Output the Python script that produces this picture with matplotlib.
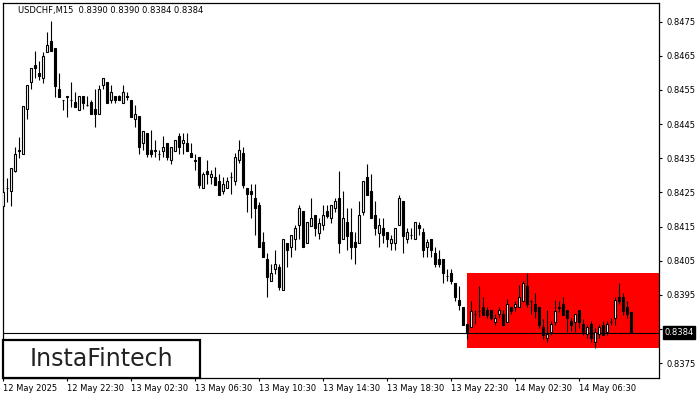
import matplotlib
matplotlib.use("Agg")
import matplotlib.pyplot as plt
from matplotlib.patches import Rectangle
import numpy as np

title_text = "USDCHF,M15  0.8390 0.8390 0.8384 0.8384"

opens = [0.84211, 0.84262, 0.84254, 0.84313, 0.84372, 0.84364, 0.84493, 0.84574, 0.84623, 0.84601,
         0.84584, 0.84662, 0.84693, 0.84672, 0.84553, 0.84522, 0.84530, 0.84520, 0.84514, 0.84491,
         0.84532, 0.84506, 0.84514, 0.84493, 0.84481, 0.84564, 0.84574, 0.84522, 0.84532, 0.84532,
         0.84512, 0.84532, 0.84522, 0.84464, 0.84474, 0.84394, 0.84425, 0.84374, 0.84372, 0.84364,
         0.84372, 0.84394, 0.84345, 0.84372, 0.84415, 0.84394, 0.84394, 0.84366, 0.84345, 0.84355,
         0.84262, 0.84312, 0.84294, 0.84296, 0.84283, 0.84253, 0.84262, 0.84296, 0.84283, 0.84344,
         0.84365, 0.84262, 0.84255, 0.84233, 0.84213, 0.84104, 0.84054, 0.83991, 0.84025, 0.84032,
         0.83964, 0.84103, 0.84091, 0.84113, 0.84154, 0.84195, 0.84103, 0.84152, 0.84184, 0.84132,
         0.84154, 0.84195, 0.84174, 0.84204, 0.84233, 0.84113, 0.84164, 0.84135, 0.84106, 0.84103,
         0.84193, 0.84296, 0.84254, 0.84184, 0.84132, 0.84145, 0.84135, 0.84103, 0.84103, 0.84154,
         0.84225, 0.84113, 0.84125, 0.84113, 0.84154, 0.84135, 0.84091, 0.84113, 0.84073, 0.84054,
         0.84054, 0.84005, 0.84013, 0.83986, 0.83935, 0.83914, 0.83865, 0.83855, 0.83894, 0.83904,
         0.83914, 0.83906, 0.83906, 0.83871, 0.83894, 0.83894, 0.83871, 0.83914, 0.83914, 0.83914,
         0.83933, 0.83976, 0.83933, 0.83923, 0.83914, 0.83855, 0.83823, 0.83842, 0.83871, 0.83914,
         0.83923, 0.83906, 0.83874, 0.83871, 0.83906, 0.83865, 0.83835, 0.83865, 0.83813, 0.83835,
         0.83862, 0.83842, 0.83871, 0.83884, 0.83943, 0.83943, 0.83914, 0.83900]

highs = [0.84264, 0.84291, 0.84322, 0.84384, 0.84413, 0.84504, 0.84564, 0.84615, 0.84664, 0.84634,
         0.84662, 0.84720, 0.84752, 0.84672, 0.84601, 0.84522, 0.84532, 0.84572, 0.84543, 0.84532,
         0.84532, 0.84532, 0.84520, 0.84552, 0.84564, 0.84584, 0.84574, 0.84564, 0.84532, 0.84535,
         0.84564, 0.84545, 0.84522, 0.84506, 0.84474, 0.84430, 0.84425, 0.84433, 0.84403, 0.84374,
         0.84415, 0.84394, 0.84382, 0.84403, 0.84423, 0.84423, 0.84423, 0.84394, 0.84364, 0.84355,
         0.84311, 0.84345, 0.84315, 0.84325, 0.84304, 0.84296, 0.84296, 0.84310, 0.84366, 0.84403,
         0.84384, 0.84262, 0.84275, 0.84275, 0.84222, 0.84135, 0.84073, 0.84042, 0.84083, 0.84042,
         0.84113, 0.84103, 0.84125, 0.84154, 0.84213, 0.84195, 0.84164, 0.84234, 0.84184, 0.84174,
         0.84213, 0.84213, 0.84213, 0.84234, 0.84313, 0.84254, 0.84204, 0.84204, 0.84135, 0.84225,
         0.84283, 0.84333, 0.84304, 0.84225, 0.84174, 0.84174, 0.84135, 0.84125, 0.84145, 0.84244,
         0.84225, 0.84145, 0.84145, 0.84164, 0.84164, 0.84145, 0.84113, 0.84113, 0.84091, 0.84083,
         0.84054, 0.84025, 0.84025, 0.83986, 0.83976, 0.83914, 0.83865, 0.83933, 0.83906, 0.83976,
         0.83943, 0.83914, 0.83906, 0.83894, 0.83914, 0.83906, 0.83937, 0.83916, 0.83933, 0.83979,
         0.83991, 0.84015, 0.83935, 0.83956, 0.83914, 0.83881, 0.83906, 0.83874, 0.83935, 0.83933,
         0.83943, 0.83906, 0.83884, 0.83894, 0.83906, 0.83881, 0.83862, 0.83874, 0.83852, 0.83865,
         0.83874, 0.83874, 0.83884, 0.83943, 0.83984, 0.83956, 0.83933, 0.83900]

lows = [0.84204, 0.84223, 0.84211, 0.84310, 0.84351, 0.84364, 0.84465, 0.84553, 0.84586, 0.84579,
        0.84571, 0.84662, 0.84664, 0.84530, 0.84530, 0.84491, 0.84471, 0.84501, 0.84501, 0.84491,
        0.84494, 0.84503, 0.84481, 0.84442, 0.84481, 0.84552, 0.84512, 0.84512, 0.84512, 0.84520,
        0.84512, 0.84520, 0.84471, 0.84442, 0.84364, 0.84374, 0.84353, 0.84353, 0.84353, 0.84345,
        0.84353, 0.84345, 0.84333, 0.84372, 0.84364, 0.84364, 0.84372, 0.84353, 0.84317, 0.84262,
        0.84262, 0.84275, 0.84275, 0.84272, 0.84242, 0.84245, 0.84262, 0.84245, 0.84272, 0.84335,
        0.84262, 0.84193, 0.84174, 0.84125, 0.84091, 0.84062, 0.83943, 0.83991, 0.84011, 0.83964,
        0.83964, 0.84032, 0.84062, 0.84083, 0.84113, 0.84091, 0.84103, 0.84152, 0.84122, 0.84113,
        0.84140, 0.84174, 0.84161, 0.84193, 0.84073, 0.84113, 0.84083, 0.84054, 0.84042, 0.84103,
        0.84184, 0.84244, 0.84174, 0.84125, 0.84091, 0.84103, 0.84091, 0.84083, 0.84083, 0.84154,
        0.84073, 0.84103, 0.84113, 0.84113, 0.84125, 0.84062, 0.84062, 0.84062, 0.84032, 0.84032,
        0.83984, 0.83991, 0.83982, 0.83933, 0.83906, 0.83862, 0.83820, 0.83855, 0.83865, 0.83886,
        0.83891, 0.83884, 0.83876, 0.83862, 0.83884, 0.83862, 0.83871, 0.83894, 0.83904, 0.83914,
        0.83933, 0.83914, 0.83894, 0.83884, 0.83852, 0.83820, 0.83813, 0.83833, 0.83862, 0.83901,
        0.83891, 0.83842, 0.83845, 0.83842, 0.83852, 0.83833, 0.83823, 0.83813, 0.83794, 0.83823,
        0.83833, 0.83833, 0.83862, 0.83862, 0.83923, 0.83891, 0.83884, 0.83840]

closes = [0.84252, 0.84264, 0.84322, 0.84364, 0.84374, 0.84504, 0.84564, 0.84613, 0.84613, 0.84591,
          0.84650, 0.84683, 0.84664, 0.84562, 0.84530, 0.84520, 0.84532, 0.84521, 0.84501, 0.84532,
          0.84512, 0.84506, 0.84481, 0.84481, 0.84552, 0.84584, 0.84512, 0.84543, 0.84522, 0.84522,
          0.84543, 0.84530, 0.84471, 0.84481, 0.84382, 0.84430, 0.84364, 0.84364, 0.84374, 0.84362,
          0.84382, 0.84353, 0.84382, 0.84403, 0.84382, 0.84403, 0.84372, 0.84353, 0.84343, 0.84272,
          0.84303, 0.84303, 0.84303, 0.84272, 0.84242, 0.84275, 0.84284, 0.84294, 0.84355, 0.84374,
          0.84272, 0.84245, 0.84245, 0.84204, 0.84091, 0.84062, 0.84003, 0.84013, 0.84042, 0.83974,
          0.84113, 0.84083, 0.84125, 0.84145, 0.84204, 0.84091, 0.84164, 0.84174, 0.84145, 0.84161,
          0.84184, 0.84181, 0.84213, 0.84225, 0.84103, 0.84174, 0.84122, 0.84091, 0.84091, 0.84184,
          0.84283, 0.84244, 0.84174, 0.84145, 0.84154, 0.84125, 0.84113, 0.84113, 0.84145, 0.84233,
          0.84122, 0.84135, 0.84125, 0.84164, 0.84145, 0.84083, 0.84106, 0.84083, 0.84042, 0.84042,
          0.84013, 0.84005, 0.83991, 0.83943, 0.83920, 0.83862, 0.83842, 0.83904, 0.83894, 0.83904,
          0.83891, 0.83891, 0.83884, 0.83884, 0.83906, 0.83862, 0.83923, 0.83904, 0.83923, 0.83943,
          0.83984, 0.83923, 0.83933, 0.83904, 0.83862, 0.83833, 0.83835, 0.83865, 0.83904, 0.83912,
          0.83891, 0.83884, 0.83862, 0.83894, 0.83871, 0.83842, 0.83855, 0.83823, 0.83842, 0.83855,
          0.83833, 0.83865, 0.83871, 0.83935, 0.83933, 0.83904, 0.83894, 0.83840]

x_tick_labels = ["12 May 2025", "12 May 22:30", "13 May 02:30", "13 May 06:30", "13 May 10:30",
                 "13 May 14:30", "13 May 18:30", "13 May 22:30", "14 May 02:30", "14 May 06:30"]
y_ticks = [0.8375, 0.8385, 0.8395, 0.8405, 0.8415, 0.8425, 0.8435, 0.8445, 0.8455, 0.8465, 0.8475]

current_price = 0.8384
zone_top = 0.84015
zone_bottom = 0.83796

o = np.array(opens); h = np.array(highs); l = np.array(lows); c = np.array(closes)
x = np.arange(len(o))

fig = plt.figure(figsize=(7, 4), dpi=100)
ax = fig.add_axes([3 / 700, 22 / 400, 656 / 700, 375.3 / 400])
ax.set_facecolor("white")

ax.set_xlim(-0.075, 163.93)
ax.set_ylim(0.83707, 0.848055)

# red zone
zone_start = 115.85
ax.add_patch(Rectangle((zone_start, zone_bottom), 163.93 - zone_start, zone_top - zone_bottom,
                       facecolor="#ff0000", edgecolor="none", zorder=1))
ax.axhline(current_price, color="black", lw=0.8, zorder=1.5)

# wicks
ax.vlines(x, l, h, color="black", lw=0.8, zorder=2)
bull = c >= o
body_bottom = np.minimum(o, c)
body_h = np.maximum(np.abs(c - o), 0.000002)
ax.bar(x[bull], body_h[bull], bottom=body_bottom[bull], width=0.55, color="white",
       edgecolor="black", linewidth=0.8, zorder=3)
ax.bar(x[~bull], body_h[~bull], bottom=body_bottom[~bull], width=0.55, color="black",
       edgecolor="black", linewidth=0.8, zorder=3)

# axes styling
for s in ax.spines.values():
    s.set_linewidth(0.9)
    s.set_color("black")
ax.yaxis.tick_right()
ax.set_yticks(y_ticks)
ax.set_yticklabels([f"{v:.4f}" for v in y_ticks])
ax.tick_params(axis="y", direction="out", length=2.5, width=0.8, pad=3, labelsize=6,
               labelcolor="#000000", right=True, left=False)
ax.set_xticks(np.arange(0, 16 * len(x_tick_labels), 16))
ax.set_xticklabels(x_tick_labels)
ax.tick_params(axis="x", direction="out", length=2.5, width=0.8, pad=2, labelsize=6,
               labelcolor="#000000")
for lbl in ax.get_xticklabels():
    lbl.set_ha("left")

# current price label
ax.text(1.0082, current_price, "0.8384", transform=ax.get_yaxis_transform(), fontsize=6,
        color="white", va="center", ha="left", clip_on=False, zorder=10,
        bbox=dict(boxstyle="square,pad=0.2", facecolor="black", edgecolor="black"))

# title
fig.text(18 / 700, 1 - 10 / 400, title_text, fontsize=6, va="center", ha="left", color="black")

# logo box
fig.add_artist(Rectangle((3 / 700, 22 / 400), 197 / 700, 38 / 400, transform=fig.transFigure,
                         facecolor="white", edgecolor="black", linewidth=1.6, zorder=20))
fig.text(101 / 700, 41 / 400, "InstaFintech", fontsize=17, ha="center", va="center",
         color="#222222", zorder=21, family="DejaVu Sans")

fig.savefig("out.png", dpi=100)
